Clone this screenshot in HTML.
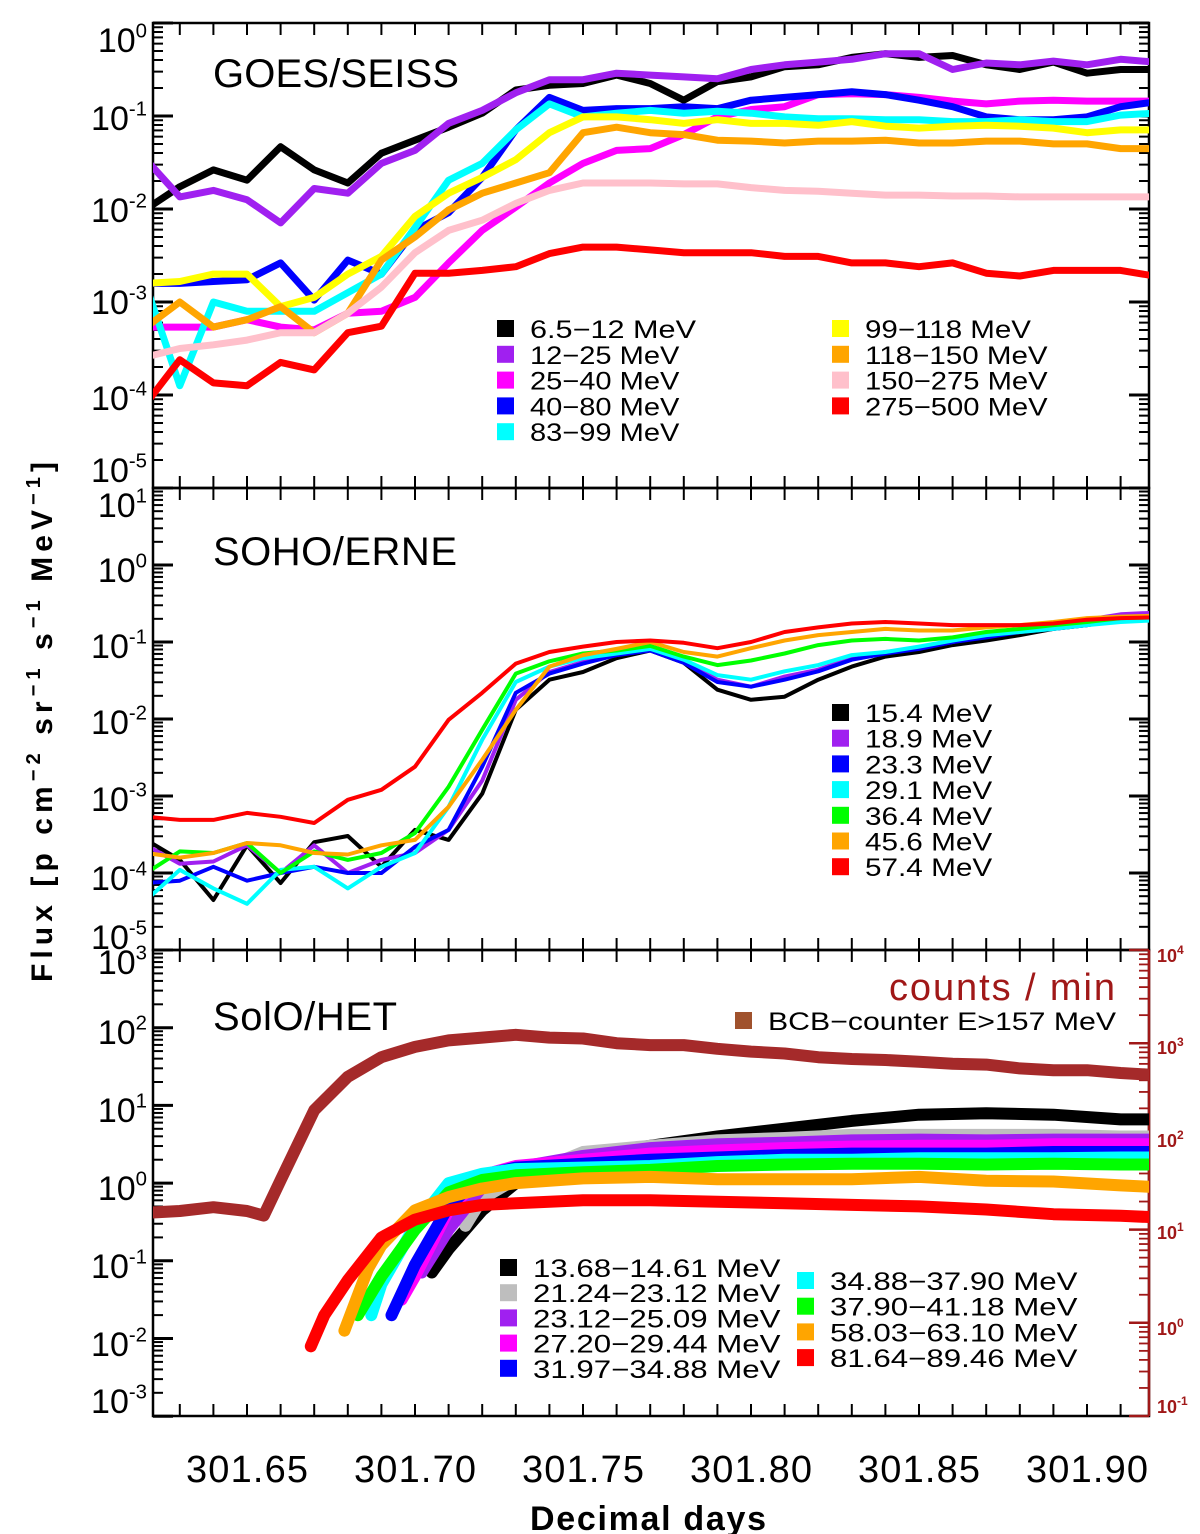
<!DOCTYPE html>
<html><head><meta charset="utf-8"><style>
html,body{margin:0;padding:0;background:#fff;}
svg{display:block;}
text{font-family:"Liberation Sans",sans-serif;}
.leg{font-family:"Liberation Sans",sans-serif;font-size:25px;}
</style></head><body>
<svg id="chart" width="1200" height="1534" viewBox="0 0 1200 1534" xmlns="http://www.w3.org/2000/svg">
<defs>
<clipPath id="c1"><rect x="153" y="23" width="996" height="465"/></clipPath>
<clipPath id="c2"><rect x="153" y="488" width="996" height="462"/></clipPath>
<clipPath id="c3"><rect x="153" y="950" width="996" height="466"/></clipPath>
</defs>
<g id="axes"></g>
<g id="series"></g>
<g id="labels">
<text x="213" y="87" font-size="40" textLength="246">GOES/SEISS</text>
<text x="213" y="565" font-size="40" textLength="244">SOHO/ERNE</text>
<text x="213" y="1030" font-size="40" textLength="184">SolO/HET</text>
<text x="889" y="1000" font-size="38" fill="#a01818" textLength="226">counts / min</text>
<text x="52" y="722" font-size="30" font-weight="bold" text-anchor="middle" transform="rotate(-90 52 722)" textLength="520">Flux [p cm<tspan dy="-12" font-size="20">−2</tspan><tspan dy="12"> sr</tspan><tspan dy="-12" font-size="20">−1</tspan><tspan dy="12"> s</tspan><tspan dy="-12" font-size="20">−1</tspan><tspan dy="12"> MeV</tspan><tspan dy="-12" font-size="20">−1</tspan><tspan dy="12">]</tspan></text>
<text x="648" y="1530" font-size="34" font-weight="bold" text-anchor="middle" textLength="236">Decimal days</text>
</g>
<g id="legends"></g>
</svg>
<script>
// ---------- data ----------
const gridTimes = [301.62,301.63,301.64,301.65,301.66,301.67,301.68,301.69,301.70,301.71,301.72,301.73,301.74,301.75,301.76,301.77,301.78,301.79,301.80,301.81,301.82,301.83,301.84,301.85,301.86,301.87,301.88,301.89,301.90,301.91,301.92];
const xTickLabels = ["301.65","301.70","301.75","301.80","301.85","301.90"];
// GOES log10 flux
const goesNames = ["6.5−12 MeV","12−25 MeV","25−40 MeV","40−80 MeV","83−99 MeV","99−118 MeV","118−150 MeV","150−275 MeV","275−500 MeV"];
const goes1 = [-2.0,-1.76,-1.58,-1.69,-1.33,-1.58,-1.72,-1.40,-1.26,-1.12,-0.97,-0.72,-0.67,-0.65,-0.56,-0.65,-0.83,-0.63,-0.58,-0.47,-0.45,-0.37,-0.33,-0.37,-0.35,-0.45,-0.5,-0.42,-0.54,-0.5,-0.5];
const goes2 = [-1.47,-1.87,-1.8,-1.9,-2.15,-1.78,-1.83,-1.51,-1.37,-1.08,-0.94,-0.75,-0.61,-0.61,-0.54,-0.56,-0.58,-0.6,-0.5,-0.45,-0.42,-0.39,-0.33,-0.33,-0.5,-0.43,-0.45,-0.41,-0.45,-0.39,-0.42];
const goes3 = [-3.27,-3.27,-3.27,-3.19,-3.27,-3.3,-3.12,-3.1,-2.95,-2.58,-2.23,-1.98,-1.72,-1.51,-1.37,-1.35,-1.2,-1.01,-0.93,-0.9,-0.77,-0.76,-0.77,-0.8,-0.84,-0.87,-0.84,-0.83,-0.84,-0.84,-0.84];
const goes4 = [-2.8,-2.8,-2.78,-2.76,-2.58,-2.98,-2.55,-2.7,-2.23,-2.04,-1.66,-1.15,-0.8,-0.94,-0.92,-0.92,-0.9,-0.92,-0.83,-0.8,-0.77,-0.74,-0.77,-0.83,-0.9,-1.01,-1.04,-1.04,-1.01,-0.9,-0.85];
const goes5 = [-2.83,-3.9,-3.0,-3.1,-3.1,-3.1,-2.9,-2.7,-2.2,-1.69,-1.51,-1.15,-0.87,-1.01,-0.97,-0.94,-0.97,-0.95,-0.97,-1.01,-1.03,-1.03,-1.04,-1.04,-1.06,-1.06,-1.04,-1.06,-1.06,-0.99,-0.97];
const goes6 = [-2.8,-2.78,-2.7,-2.7,-3.05,-2.95,-2.7,-2.51,-2.08,-1.83,-1.66,-1.47,-1.18,-1.01,-1.01,-1.04,-1.08,-1.04,-1.08,-1.08,-1.1,-1.06,-1.11,-1.13,-1.11,-1.1,-1.11,-1.13,-1.18,-1.15,-1.15];
const goes7 = [-3.27,-3.0,-3.27,-3.19,-3.05,-3.33,-3.12,-2.55,-2.3,-2.01,-1.83,-1.72,-1.61,-1.18,-1.12,-1.18,-1.2,-1.26,-1.27,-1.29,-1.27,-1.27,-1.26,-1.29,-1.29,-1.27,-1.27,-1.3,-1.3,-1.35,-1.35];
const goes8 = [-3.59,-3.5,-3.46,-3.41,-3.33,-3.33,-3.12,-2.84,-2.47,-2.23,-2.12,-1.94,-1.8,-1.72,-1.72,-1.72,-1.73,-1.73,-1.77,-1.8,-1.81,-1.83,-1.85,-1.85,-1.86,-1.86,-1.87,-1.87,-1.87,-1.87,-1.87];
const goes9 = [-4.09,-3.62,-3.87,-3.9,-3.65,-3.73,-3.33,-3.26,-2.69,-2.69,-2.66,-2.62,-2.48,-2.41,-2.41,-2.44,-2.47,-2.47,-2.47,-2.51,-2.51,-2.58,-2.58,-2.62,-2.58,-2.69,-2.72,-2.66,-2.66,-2.66,-2.72];
// ERNE log10 flux
const erneNames = ["15.4 MeV","18.9 MeV","23.3 MeV","29.1 MeV","36.4 MeV","45.6 MeV","57.4 MeV"];
const erne1 = [-3.57,-3.83,-4.35,-3.64,-4.13,-3.6,-3.52,-3.92,-3.44,-3.57,-2.97,-1.88,-1.49,-1.39,-1.21,-1.11,-1.27,-1.62,-1.75,-1.71,-1.49,-1.32,-1.19,-1.13,-1.04,-0.98,-0.91,-0.83,-0.78,-0.71,-0.7];
const erne2 = [-3.64,-3.88,-3.85,-3.64,-4.0,-3.64,-4.0,-3.83,-3.74,-3.44,-2.8,-1.75,-1.39,-1.26,-1.17,-1.09,-1.25,-1.49,-1.58,-1.45,-1.36,-1.21,-1.13,-1.08,-1.0,-0.91,-0.87,-0.81,-0.71,-0.64,-0.62];
const erne3 = [-4.13,-4.1,-3.92,-4.1,-4.0,-3.92,-4.0,-4.0,-3.66,-3.44,-2.62,-1.66,-1.41,-1.28,-1.17,-1.11,-1.27,-1.52,-1.58,-1.49,-1.38,-1.23,-1.15,-1.09,-1.0,-0.94,-0.87,-0.83,-0.78,-0.71,-0.7];
const erne4 = [-4.35,-3.96,-4.2,-4.4,-3.96,-3.92,-4.2,-3.92,-3.74,-3.14,-2.27,-1.52,-1.32,-1.21,-1.15,-1.09,-1.23,-1.43,-1.49,-1.38,-1.3,-1.17,-1.13,-1.06,-0.98,-0.91,-0.87,-0.83,-0.78,-0.74,-0.72];
const erne5 = [-4.0,-3.72,-3.74,-3.61,-4.0,-3.72,-3.83,-3.74,-3.48,-2.88,-2.14,-1.41,-1.25,-1.15,-1.11,-1.05,-1.19,-1.3,-1.24,-1.15,-1.04,-0.98,-0.96,-0.98,-0.94,-0.87,-0.83,-0.78,-0.74,-0.69,-0.68];
const erne6 = [-3.74,-3.8,-3.74,-3.61,-3.64,-3.74,-3.76,-3.64,-3.57,-3.14,-2.53,-1.88,-1.32,-1.17,-1.09,-1.0,-1.13,-1.19,-1.08,-0.98,-0.91,-0.87,-0.83,-0.85,-0.85,-0.81,-0.78,-0.74,-0.69,-0.67,-0.66];
const erne7 = [-3.27,-3.31,-3.31,-3.22,-3.27,-3.35,-3.05,-2.92,-2.62,-2.01,-1.66,-1.28,-1.13,-1.06,-1.0,-0.98,-1.01,-1.08,-1.0,-0.87,-0.81,-0.76,-0.74,-0.76,-0.78,-0.78,-0.78,-0.76,-0.71,-0.69,-0.68];
// SolO/HET BCB counts (log10 counts/min)
const bcbTimes = [301.62,301.63,301.64,301.65,301.655,301.66,301.67,301.68,301.69,301.70,301.71,301.72,301.73,301.74,301.75,301.76,301.77,301.78,301.79,301.80,301.81,301.82,301.83,301.84,301.85,301.86,301.87,301.88,301.89,301.90,301.91,301.92];
const bcbCounts = [1.18,1.2,1.24,1.2,1.15,1.53,2.28,2.64,2.85,2.96,3.03,3.06,3.09,3.06,3.05,3.0,2.98,2.98,2.94,2.91,2.89,2.85,2.83,2.82,2.8,2.78,2.77,2.73,2.71,2.71,2.68,2.66];
// SolO/HET channels (log10 flux)
const hetNames = ["13.68−14.61 MeV","21.24−23.12 MeV","23.12−25.09 MeV","27.20−29.44 MeV","31.97−34.88 MeV","34.88−37.90 MeV","37.90−41.18 MeV","58.03−63.10 MeV","81.64−89.46 MeV"];
const hetTail = [301.73,301.75,301.77,301.79,301.81,301.83,301.85,301.87,301.89,301.91,301.92];
const het1T = [301.705,301.71,301.72]; const het1V = [-1.15,-0.85,-0.35, 0.0,0.35,0.48,0.6,0.7,0.8,0.88,0.9,0.88,0.82,0.82];
const het2T = [301.715,301.72]; const het2V = [-0.55,-0.2, 0.05,0.4,0.48,0.55,0.58,0.62,0.62,0.62,0.62,0.6,0.6];
const het3T = [301.702,301.71,301.72]; const het3V = [-1.15,-0.6,-0.05, 0.2,0.35,0.45,0.5,0.52,0.55,0.56,0.55,0.56,0.56,0.56];
const het4T = [301.696,301.70,301.71,301.72]; const het4V = [-1.5,-1.2,-0.35,0.1, 0.22,0.3,0.38,0.42,0.45,0.47,0.48,0.48,0.5,0.5,0.5];
const het5T = [301.693,301.70,301.71,301.72]; const het5V = [-1.7,-1.05,-0.3,0.1, 0.2,0.25,0.3,0.33,0.36,0.38,0.38,0.38,0.4,0.4,0.4];
const het6T = [301.687,301.69,301.70,301.71,301.72]; const het6V = [-1.7,-1.3,-0.55,0.0,0.12, 0.18,0.2,0.22,0.27,0.3,0.3,0.32,0.32,0.32,0.33,0.33];
const het7T = [301.683,301.69,301.70,301.71,301.72]; const het7V = [-1.7,-1.2,-0.6,-0.12,0.04, 0.1,0.14,0.17,0.22,0.24,0.25,0.25,0.24,0.25,0.24,0.24];
const het8T = [301.679,301.686,301.69,301.70,301.71,301.72]; const het8V = [-1.9,-1.1,-0.8,-0.35,-0.18,-0.07, 0.0,0.06,0.08,0.05,0.05,0.05,0.08,0.03,0.02,-0.03,-0.05];
const het9T = [301.669,301.673,301.68,301.69,301.70,301.71,301.72]; const het9V = [-2.1,-1.7,-1.25,-0.7,-0.47,-0.35,-0.28, -0.26,-0.22,-0.22,-0.24,-0.26,-0.28,-0.3,-0.34,-0.4,-0.42,-0.44];

// ---------- scales ----------
const NS="http://www.w3.org/2000/svg";
const X0=153, X1=1149;
function X(t){return 247+(t-301.65)*3360;}
function Y1(l){return 23+(0-l)*93;}
function Y2(l){return 488+(1-l)*77;}
function Y3(l){return 950+(3-l)*77.7;}
function Y3r(l){return 950+(4-l)*93.2;}
function mk(tag,attrs,parent){const e=document.createElementNS(NS,tag);for(const k in attrs)e.setAttribute(k,attrs[k]);parent.appendChild(e);return e;}
const axes=document.getElementById('axes'), ser=document.getElementById('series'), leg=document.getElementById('legends');

// ---------- axes ----------
const panels=[{top:23,bot:488,lo:-5,hi:0,Y:Y1,right:true},{top:488,bot:950,lo:-5,hi:1,Y:Y2,right:true},{top:950,bot:1416,lo:-3,hi:3,Y:Y3,right:false}];
panels.forEach((p,pi)=>{
  const r=mk('rect',{x:X0,y:p.top,width:X1-X0,height:p.bot-p.top,fill:'none',stroke:'#000','stroke-width':2.5},axes);
  
  
  for(let d=p.lo;d<=p.hi;d++){
    for(let k=1;k<=9;k++){
      const l=d+Math.log10(k); if(l>p.hi+1e-9) break;
      const y=p.Y(l), len=k===1?20:10;
      mk('line',{x1:X0,x2:X0+len,y1:y,y2:y,stroke:'#000','stroke-width':k===1?3:2},axes);
      if(p.right) mk('line',{x1:X1,x2:X1-len,y1:y,y2:y,stroke:'#000','stroke-width':k===1?3:2},axes);
    }
  }
  for(let i=1;i<=29;i++){
    const t=301.62+i*0.01, x=X(t); if(x<X0+3||x>X1-3) continue;
    mk('line',{x1:x,x2:x,y1:p.top,y2:p.top+12,stroke:'#000','stroke-width':2},axes);
    mk('line',{x1:x,x2:x,y1:p.bot,y2:p.bot-12,stroke:'#000','stroke-width':2},axes);
  }
});
mk('line',{x1:X1,x2:X1,y1:950,y2:1416,stroke:'#a01818','stroke-width':2.5},axes);
for(let d=-1;d<=4;d++){for(let k=1;k<=9;k++){const l=d+Math.log10(k); if(l>4+1e-9)break; const y=Y3r(l);
  mk('line',{x1:X1,x2:X1-(k===1?20:10),y1:y,y2:y,stroke:'#a01818','stroke-width':k===1?2.5:1.8},axes);}}
function ylab(parent,x,y,exp,size,fill,name){
  const t=mk('text',{x:x,y:y,'font-size':size,'text-anchor':'end',fill:fill},parent);
  
  
  t.appendChild(document.createTextNode('10'));
  const s=mk('tspan',{dy:-size*0.42,'font-size':size*0.6},t); s.textContent=exp;
}
const lab1=[[0,40],[-1,118],[-2,210],[-3,302],[-4,398],[-5,470]];
const lab2=[[1,505],[0,570],[-1,646],[-2,722],[-3,799],[-4,878],[-5,937]];
const lab3=[[3,962],[2,1032],[1,1110],[0,1188],[-1,1266],[-2,1344],[-3,1401]];
[lab1,lab2,lab3].forEach((L,pi)=>L.forEach(([e,y])=>ylab(axes,147,y+12,e===0?'0':(e<0?'-'+(-e):''+e),34,'#000','y-tick-label-p'+(pi+1))));
const labR=[[4,955],[3,1047],[2,1140],[1,1232],[0,1328],[-1,1406]];
labR.forEach(([e,y])=>{
  const t=mk('text',{x:1157,y:y+7,'font-size':18,'font-weight':'bold',fill:'#a01818'},axes);
  
  
  t.appendChild(document.createTextNode('10'));
  const s=mk('tspan',{dy:-8,'font-size':12},t); s.textContent=e<0?'-1':''+e;
});
xTickLabels.forEach(s=>{
  const t=mk('text',{x:X(parseFloat(s)),y:1482,'font-size':38,'text-anchor':'middle',textLength:122},axes);
  
  
  t.textContent=s;
});

// ---------- series ----------
function line(times,vals,Yf,color,w,clip,name){
  let d=''; for(let i=0;i<vals.length&&i<times.length;i++){d+=(i?'L':'M')+X(times[i]).toFixed(1)+' '+Yf(vals[i]).toFixed(1);}
  const p=mk('path',{d:d,fill:'none',stroke:color,'stroke-width':w,'stroke-linejoin':'round','stroke-linecap':'round','clip-path':'url(#'+clip+')'},ser);
  
  
}
const goesCols=['#000000','#a020f0','#ff00ff','#0000ff','#00ffff','#ffff00','#ffa500','#ffc0cb','#ff0000'];
[goes1,goes2,goes3,goes4,goes5,goes6,goes7,goes8,goes9].forEach((v,i)=>line(gridTimes,v,Y1,goesCols[i],7,'c1','goes-series-'+(i+1)));
const erneCols=['#000000','#a020f0','#0000ff','#00ffff','#00ff00','#ffa500','#ff0000'];
[erne1,erne2,erne3,erne4,erne5,erne6,erne7].forEach((v,i)=>line(gridTimes,v,Y2,erneCols[i],4,'c2','erne-series-'+(i+1)));
line(bcbTimes,bcbCounts,Y3r,'#a52a2a',12,'c3','bcb-counter-series');
const hetCols=['#000000','#bebebe','#a020f0','#ff00ff','#0000ff','#00ffff','#00ff00','#ffa500','#ff0000'];
[[het1T,het1V],[het2T,het2V],[het3T,het3V],[het4T,het4V],[het5T,het5V],[het6T,het6V],[het7T,het7V],[het8T,het8V],[het9T,het9V]].forEach(([T,V],i)=>line(T.concat(hetTail),V,Y3,hetCols[i],12,'c3','het-series-'+(i+1)));

// ---------- legends ----------
function legItem(x,y,color,label,name,len){
  const r=mk('rect',{x:x,y:y-9,width:17,height:17,fill:color},leg);
  
  
  const t=mk('text',{x:x+33,y:y+9,class:'leg',textLength:len,lengthAdjust:'spacingAndGlyphs'},leg);
  
  
  t.textContent=label;
}
goesNames.forEach((n,i)=>{const c=i<5?0:1, r=i<5?i:i-5; legItem(c?832:497,329+r*25.8,goesCols[i],n,'goes-legend-entry',n.length*16.6);});
erneNames.forEach((n,i)=>legItem(832,713+i*25.7,erneCols[i],n,'erne-legend-entry',n.length*15.9));
hetNames.forEach((n,i)=>{const c=i<5?0:1, r=i<5?i:i-5; legItem(c?797:500,c?1281+r*25.7:1268+r*25.2,hetCols[i],n,'het-legend-entry',n.length*16.5);});
legItem(735,1021,'#a0522d','BCB−counter E>157 MeV','bcb-legend-entry',348);
</script>
</body></html>
